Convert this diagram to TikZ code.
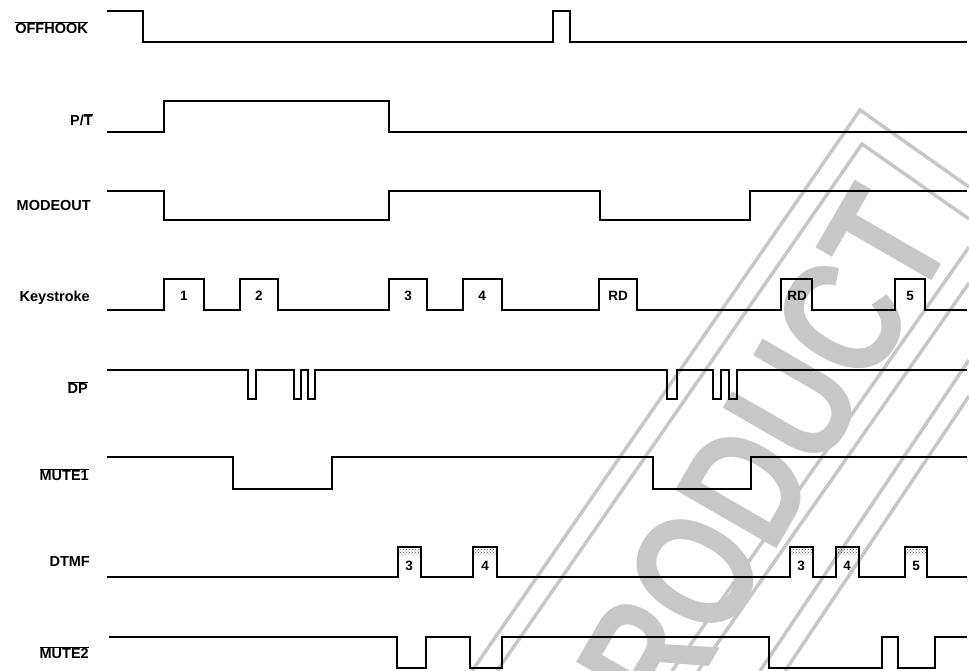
\documentclass[tikz,border=0pt]{standalone}
\usepackage{fontspec}
\setmainfont{Liberation Sans}
\usetikzlibrary{patterns}

\begin{document}
\begin{tikzpicture}[x=1pt, y=-1pt,
  sig/.style={line width=2pt, line join=miter},
  lbl/.style={anchor=east, inner sep=0pt, font=\fontsize{14.5}{16}\selectfont\bfseries},
  num/.style={inner sep=0pt, font=\fontsize{13.5}{15}\selectfont\bfseries},
  tone/.style={pattern=crosshatch dots, pattern color=black!70},
  stamp/.style={draw=black!22, line width=3.5pt},
]
\useasboundingbox (0,0) rectangle (969,671);
% watermark stamp
\node[text=black!22, inner sep=0pt, rotate=60,
      font=\fontsize{170}{170}\selectfont\bfseries] (wm) at (742,492) {\scalebox{0.78}[1]{PRODUCT}};
\draw[stamp] (472,671) -- (860,110) -- (969,187);
\draw[stamp] (497,671) -- (862,144) -- (969,219);
\draw[stamp] (672,671) -- (969,247);
\draw[stamp] (698,671) -- (969,283);
\draw[stamp] (760,671) -- (969,360);
\draw[stamp] (785,671) -- (969,396);

% signal names
\node[lbl] (offhook) at (88,28) {$\overline{\mbox{OFFHOOK}}$};
\node[lbl] (pt) at (93,120) {P/$\overline{\mbox{T}}$};
\node[lbl] (modeout) at (91,206) {MODEOUT};
\node[lbl] (keys) at (90,298) {Keystroke};
\node[lbl] (dp) at (88,388) {$\overline{\mbox{DP}}$};
\node[lbl] (mute1) at (89,475) {$\overline{\mbox{MUTE1}}$};
\node[lbl] (dtmf) at (90,562) {DTMF};
\node[lbl] (mute2) at (89,653) {$\overline{\mbox{MUTE2}}$};

% waveforms
\draw[sig] (107,11) -| (143,42) -| (553,11) -| (570,42) -- (967,42);
\draw[sig] (107,132) -| (164,101) -| (389,132) -- (967,132);
\draw[sig] (107,191) -| (164,220) -| (389,191) -| (600,220) -| (750,191) -- (967,191);
\draw[sig] (107,310) -| (164,279) -| (204,310) -| (240,279) -| (278,310)
  -| (389,279) -| (427,310) -| (463,279) -| (502,310) -| (599,279) -| (637,310)
  -| (781,279) -| (812,310) -| (895,279) -| (925,310) -- (967,310);
\draw[sig] (107,370) -| (248,399) -| (256,370) -| (294,399) -| (301,370)
  -| (308,399) -| (315,370) -| (667,399) -| (677,370) -| (713,399) -| (721,370)
  -| (729,399) -| (737,370) -- (967,370);
\draw[sig] (107,457) -| (233,489) -| (332,457) -| (653,489) -| (751,457) -- (967,457);
\fill[tone] (399,549) rectangle (420,554);
\fill[tone] (474,549) rectangle (496,554);
\fill[tone] (791,549) rectangle (812,554);
\fill[tone] (837,549) rectangle (858,554);
\fill[tone] (906,549) rectangle (926,554);
\draw[sig] (107,577) -| (398,547) -| (421,577) -| (473,547) -| (497,577)
  -| (790,547) -| (813,577) -| (836,547) -| (859,577) -| (905,547) -| (927,577) -- (967,577);
\draw[sig] (109,637) -| (397,668) -| (426,637) -| (470,668) -| (502,637)
  -| (769,668) -| (882,637) -| (898,668) -| (935,637) -- (967,637);

% pulse labels
\node[num] (k1) at (184,296) {1};
\node[num] (k2) at (259,296) {2};
\node[num] (k3) at (408,296) {3};
\node[num] (k4) at (482,296) {4};
\node[num] (k5) at (618,296) {RD};
\node[num] (k6) at (797,296) {RD};
\node[num] (k7) at (910,296) {5};
\node[num] (t1) at (409,566) {3};
\node[num] (t2) at (485,566) {4};
\node[num] (t3) at (801,566) {3};
\node[num] (t4) at (847,566) {4};
\node[num] (t5) at (916,566) {5};
\end{tikzpicture}
\end{document}
